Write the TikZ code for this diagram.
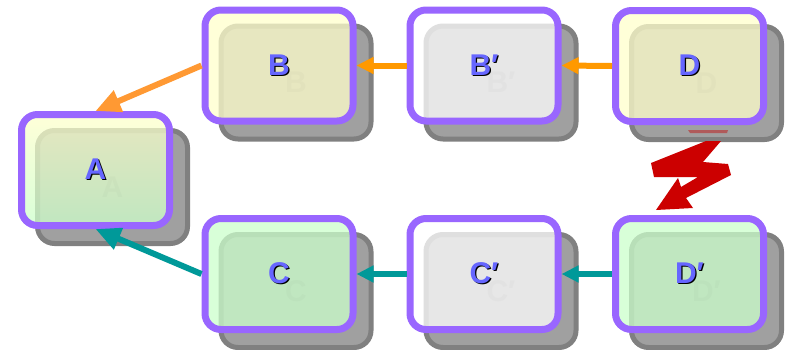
\documentclass[tikz,border=0pt]{standalone}
\usepackage{fontspec}
\setmainfont{Liberation Sans}
\usetikzlibrary{arrows.meta}
\definecolor{purp}{HTML}{9966FF}
\definecolor{lblc}{HTML}{6666FF}
\definecolor{shadowrim}{HTML}{808080}
\definecolor{shadowfill}{HTML}{A0A0A0}
\definecolor{ghost}{HTML}{8E8E8E}
\definecolor{yelfill}{HTML}{FFFFCC}
\definecolor{grnfill}{HTML}{CCFFCC}
\definecolor{orngd}{HTML}{FF9933}
\definecolor{orngh}{HTML}{FF9900}
\definecolor{tealc}{HTML}{009999}
\definecolor{boltred}{HTML}{CC0000}
\definecolor{boltmuted}{HTML}{B05A5A}
\newcommand\prm{\char"2032}
\newcommand\lbl[1]{\raisebox{-2pt}{\rlap{\kern1.2pt\raisebox{-1.2pt}{\color{black}#1}}\textcolor{lblc}{#1}}}
\newcommand\ghostlbl[1]{\raisebox{-2pt}{#1}}
\tikzset{
  shadowbox/.style={draw=shadowrim, fill=shadowfill, line width=5pt, rounded corners=17pt,
    minimum width=150pt, minimum height=113pt, inner sep=0pt, text=ghost,
    font=\fontsize{30}{30}\selectfont\bfseries},
  mainbox/.style={draw=purp, line width=7pt, rounded corners=16pt,
    minimum width=148pt, minimum height=111pt, inner sep=0pt, fill opacity=0.75, text opacity=1,
    font=\fontsize{30}{30}\selectfont\bfseries},
  yel/.style={fill=yelfill},
  grn/.style={fill=grnfill},
  wht/.style={fill=white},
  grad/.style={top color=yelfill, bottom color=grnfill},
  orangediag/.style={draw=orngd, line width=6pt, -{Triangle[length=25pt,width=22pt]}},
  tealdiag/.style={draw=tealc, line width=6pt, -{Triangle[length=25pt,width=22pt]}},
  orangeh/.style={draw=orngh, line width=6pt, -{Triangle[length=17pt,width=16pt]}},
  tealh/.style={draw=tealc, line width=6pt, -{Triangle[length=17pt,width=16pt]}},
}
\begin{document}
\begin{tikzpicture}[x=1pt,y=-1pt]
\useasboundingbox (0,0) rectangle (785,349);
\fill[white] (0,0) rectangle (785,349);
% shadows
\foreach \nm/\x/\y/\t in {A/95.5/170/A, B/279/65.5/B, Bp/484/65.5/B\prm, D/689.5/66/D,
  C/279/274/C, Cp/484/274/C\prm, Dp/689.5/274/D\prm}{
  \node[shadowbox] (s\nm) at (\x+17,\y+17) {\ghostlbl{\t}};
}
% lightning bolt
\fill[boltmuted] (688,130) -- (728,130) -- (727,133) -- (690,133) -- cycle;
\fill[boltred] (706,141) -- (721,141) -- (703,162) -- (728,164) -- (731,175) -- (686,198)
  -- (693,208) -- (656,210) -- (678,178) -- (681,187) -- (698,177) -- (654,177)
  -- (651,163) -- cycle;
% main boxes
\foreach \nm/\x/\y/\t/\sty in {A/95.5/170/A/grad, B/279/65.5/B/yel, Bp/484/65.5/B\prm/wht,
  D/689.5/66/D/yel, C/279/274/C/grn, Cp/484/274/C\prm/wht, Dp/689.5/274/D\prm/grn}{
  \node[mainbox,\sty] (\nm) at (\x,\y) {\lbl{\t}};
}
% connectors
\draw[orangediag] (B.west) -- (A.north);
\draw[orangeh] (Bp.west) -- (B.east);
\draw[orangeh] (D.west) -- (Bp.east);
\draw[tealdiag] (C.west) -- (A.south);
\draw[tealh] (Cp.west) -- (C.east);
\draw[tealh] (Dp.west) -- (Cp.east);
\end{tikzpicture}
\end{document}
